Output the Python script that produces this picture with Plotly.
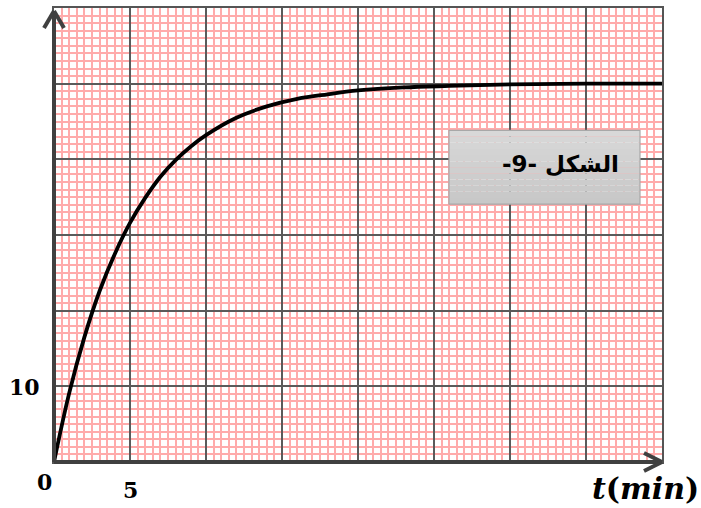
import plotly.graph_objects as go

# Datos
t_min = [0, 1, 2, 3, 4, 5, 6, 7, 8, 9, 10, 12, 14, 16, 18, 20, 23, 26, 30, 35, 40]
valores = [0, 9.1, 16.5, 22.6, 27.5, 31.6, 34.9, 37.7, 39.9, 41.7, 43.2,
           45.5, 47.0, 48.0, 48.6, 49.1, 49.5, 49.7, 49.9, 50.0, 50.0]

x_etiquetas = [(0, "0"), (5, "5")]
y_etiquetas = [(10, "10")]
titulo_figura = "\u202bالشكل -9-\u202c"
titulo_x = "<b><i>t</i>(<i>min</i>)</b>"

W, H = 701, 508
L, R, T, B = 54, 39, 6, 46
pw, ph = W - L - R, H - T - B


def px2paper(X, Y):
    return (X - L) / pw, (H - B - Y) / ph


fig = go.Figure()
fig.add_trace(go.Scatter(x=t_min, y=valores, mode="lines",
                         line=dict(color="black", width=3.8, shape="spline"),
                         hoverinfo="skip"))

eje = dict(showline=True, mirror=True, linecolor="#555555", linewidth=1.5,
           showticklabels=False, ticks="", zeroline=False,
           gridcolor="#5a5a5a", gridwidth=1.5)
fig.update_xaxes(range=[0, 40], dtick=5,
                 minor=dict(dtick=0.5, showgrid=True, gridcolor="#ffabab", gridwidth=1.6),
                 **eje)
fig.update_yaxes(range=[0, 60], dtick=10,
                 minor=dict(dtick=1, showgrid=True, gridcolor="#ffabab", gridwidth=1.6),
                 **eje)

shapes = []
# cuadro del título
x0, y0 = px2paper(449, 203)
x1, y1 = px2paper(640, 129)
n = 12
for i in range(n):
    c = int(200 + 16 * i / (n - 1))
    ya = y0 + (y1 - y0) * i / n
    yb = y0 + (y1 - y0) * (i + 1) / n
    shapes.append(dict(type="rect", xref="paper", yref="paper",
                       x0=x0, x1=x1, y0=ya, y1=yb, layer="above",
                       fillcolor=f"rgb({c},{c},{c})", line=dict(width=0)))
shapes.append(dict(type="rect", xref="paper", yref="paper", x0=x0, x1=x1, y0=y0, y1=y1,
                   layer="above", line=dict(color="#a8a8a8", width=1.2)))

# ejes gruesos con flechas
ax = "#404040"
for (a, b) in [((54, 462), (54, 9)), ((54, 462), (662, 462)),
               ((54, 9), (44, 26)), ((54, 9), (64, 26)),
               ((662, 462), (644, 453)), ((662, 462), (644, 471))]:
    p, q = px2paper(*a), px2paper(*b)
    shapes.append(dict(type="line", xref="paper", yref="paper", layer="above",
                       x0=p[0], y0=p[1], x1=q[0], y1=q[1],
                       line=dict(color=ax, width=4)))

annotations = []
fuente = dict(family="DejaVu Serif", size=22, color="black")
centro = dict(showarrow=False, xanchor="center", yanchor="middle")
for (xv, txt) in x_etiquetas:
    if xv == 0:
        annotations.append(dict(x=0, y=0, xref="x", yref="y", text=f"<b>{txt}</b>",
                                font=fuente, xshift=-10, yshift=-20, **centro))
    else:
        annotations.append(dict(x=xv, y=0, xref="x", yref="y", text=f"<b>{txt}</b>",
                                font=fuente, yshift=-28, **centro))
for (yv, txt) in y_etiquetas:
    annotations.append(dict(x=0, y=yv, xref="x", yref="y", text=f"<b>{txt}</b>",
                            font=fuente, xshift=-30, yshift=-1, **centro))
cx, cy = px2paper(645, 489)
annotations.append(dict(x=cx, y=cy, xref="paper", yref="paper", text=titulo_x,
                        font=dict(family="DejaVu Serif", size=30, color="black"), **centro))
bx, by = px2paper(560, 163)
annotations.append(dict(x=bx, y=by, xref="paper", yref="paper", text=f"<b>{titulo_figura}</b>",
                        font=dict(family="DejaVu Sans", size=23, color="black"), **centro))

fig.update_layout(width=W, height=H, margin=dict(l=L, r=R, t=T, b=B),
                  plot_bgcolor="white", paper_bgcolor="white", showlegend=False,
                  shapes=shapes, annotations=annotations)

fig.write_html("out.html", config={"displayModeBar": False},
               post_script="document.body.style.margin='0px';")
